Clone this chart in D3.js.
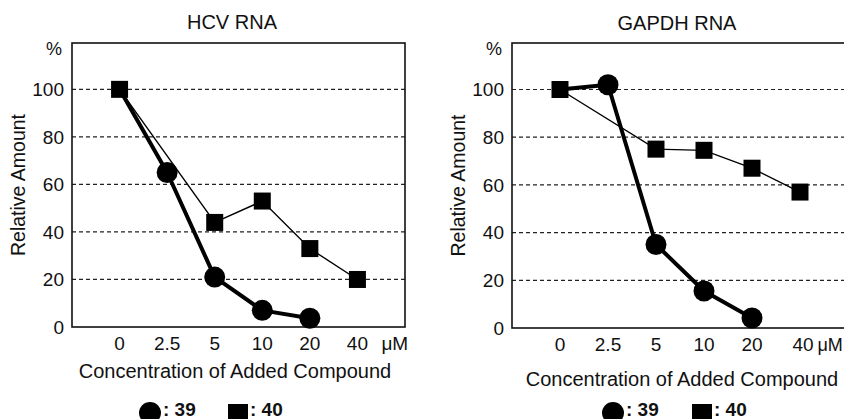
<!DOCTYPE html>
<html>
<head>
<style>
    body { margin: 0; background: #fff; }
    svg { font-family: "Liberation Sans", Arial, sans-serif; fill: #111; }
    .grid { stroke: #222; stroke-width: 1.2px; stroke-dasharray: 4,3; }
    .frame { fill: none; stroke: #111; stroke-width: 1.6px; }
    .line39 { fill: none; stroke: #000; stroke-width: 4px; stroke-linejoin: round; }
    .line40 { fill: none; stroke: #000; stroke-width: 1.4px; }
</style>
</head>
<body>
<script src="https://d3js.org/d3.v7.min.js"></script>
<script>
    // data
    var concLabels = ["0", "2.5", "5", "10", "20", "40"];
    var yTicks = [0, 20, 40, 60, 80, 100];
    var hcv39 = [100, 65, 21, 7, 3.7, null];
    var hcv40 = [100, null, 44, 53, 33, 20];
    var gapdh39 = [100, 102, 35, 15.5, 4.2, null];
    var gapdh40 = [100, null, 75, 74.5, 67, 57];

    var width = 844, height = 419;

    var svg = d3.select("body").append("svg")
        .attr("width", width)
        .attr("height", height);

    var panels = [
        { title: "HCV RNA", s39: hcv39, s40: hcv40, left: 72, right: 405, top: 43, bottom: 327,
          titleX: 232, titleY: 29, tickY: 350, axisTitleX: 235, axisTitleY: 378, legendY: 413,
          yLabelX: 25, lastDx: 0, unitDx: 24, unitSize: 19, legend: [150, 238] },
        { title: "GAPDH RNA", s39: gapdh39, s40: gapdh40, left: 512, right: 848, top: 43, bottom: 328,
          titleX: 677, titleY: 30, tickY: 351, axisTitleX: 682, axisTitleY: 386, legendY: 413,
          yLabelX: 465, lastDx: 3, unitDx: 17.5, unitSize: 18, legend: [613, 702] }
    ];

    panels.forEach(function(p) {
        var g = svg.append("g");

        var x = d3.scaleLinear().domain([-1, 6]).range([p.left, p.right]);
        var y = d3.scaleLinear().domain([0, 119.5]).range([p.bottom, p.top]);

        // dashed gridlines
        g.selectAll(".grid").data(yTicks.slice(1)).enter().append("line")
            .attr("class", "grid")
            .attr("x1", p.left).attr("x2", p.right)
            .attr("y1", function(d) { return y(d); })
            .attr("y2", function(d) { return y(d); });

        g.append("rect")
            .attr("class", "frame")
            .attr("x", p.left).attr("y", p.top)
            .attr("width", p.right - p.left).attr("height", p.bottom - p.top);

        // y tick labels
        g.selectAll(".ytick").data(yTicks).enter().append("text")
            .attr("x", p.left - 8)
            .attr("y", function(d) { return y(d); })
            .attr("dy", "0.35em")
            .attr("text-anchor", "end")
            .style("font-size", "19px")
            .text(function(d) { return d; });

        g.append("text")
            .attr("x", p.left - 10).attr("y", p.top + 12)
            .attr("text-anchor", "end")
            .style("font-size", "18px")
            .text("%");

        // x tick labels
        g.selectAll(".xtick").data(concLabels).enter().append("text")
            .attr("x", function(d, i) { return x(i) + (i === concLabels.length - 1 ? p.lastDx : 0); })
            .attr("y", p.tickY)
            .attr("text-anchor", "middle")
            .style("font-size", "19px")
            .text(function(d) { return d; });

        g.append("text")
            .attr("x", x(5) + p.unitDx).attr("y", p.tickY)
            .style("font-size", p.unitSize + "px")
            .text("\u03bcM");

        g.append("text")
            .attr("x", p.titleX).attr("y", p.titleY)
            .attr("text-anchor", "middle")
            .style("font-size", "20px")
            .text(p.title);

        g.append("text")
            .attr("transform", "translate(" + p.yLabelX + "," + ((p.top + p.bottom) / 2) + ") rotate(-90)")
            .attr("text-anchor", "middle")
            .style("font-size", "19.5px")
            .text("Relative Amount");

        g.append("text")
            .attr("x", p.axisTitleX).attr("y", p.axisTitleY)
            .attr("text-anchor", "middle")
            .style("font-size", "20px")
            .text("Concentration of Added Compound");

        function pts(arr) {
            return arr.map(function(v, i) { return { i: i, v: v }; })
                .filter(function(d) { return d.v != null; });
        }

        var line = d3.line().x(function(d) { return x(d.i); }).y(function(d) { return y(d.v); });

        // compound 39: thick line, circles (control point at 0 is shared with the square)
        g.append("path").datum(pts(p.s39)).attr("class", "line39").attr("d", line);
        g.selectAll(".c39").data(pts(p.s39).filter(function(d) { return d.i > 0; })).enter().append("circle")
            .attr("cx", function(d) { return x(d.i); })
            .attr("cy", function(d) { return y(d.v); })
            .attr("r", 10.5)
            .attr("fill", "#000");

        // compound 40: thin line, squares
        g.append("path").datum(pts(p.s40)).attr("class", "line40").attr("d", line);
        g.selectAll(".s40").data(pts(p.s40)).enter().append("rect")
            .attr("x", function(d) { return x(d.i) - 8.5; })
            .attr("y", function(d) { return y(d.v) - 8.5; })
            .attr("width", 17).attr("height", 17)
            .attr("fill", "#000");

        // legend
        var lg = g.append("g");
        lg.append("circle").attr("cx", p.legend[0]).attr("cy", p.legendY).attr("r", 11).attr("fill", "#000");
        lg.append("text").attr("x", p.legend[0] + 13).attr("y", p.legendY + 3)
            .style("font-size", "19px").style("font-weight", "bold").text(": 39");
        lg.append("rect").attr("x", p.legend[1] - 10).attr("y", p.legendY - 9)
            .attr("width", 20).attr("height", 20).attr("fill", "#000");
        lg.append("text").attr("x", p.legend[1] + 12).attr("y", p.legendY + 3)
            .style("font-size", "19px").style("font-weight", "bold").text(": 40");
    });
</script>
</body>
</html>
